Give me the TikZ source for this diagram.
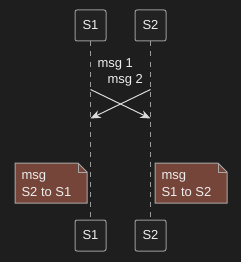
\documentclass[tikz,border=0pt]{standalone}
\usepackage{fontspec}
\setmainfont{Liberation Sans}
\usetikzlibrary{positioning, arrows.meta, calc}

\definecolor{canvas}{HTML}{1E1E1E}
\definecolor{boxfill}{HTML}{222222}
\definecolor{boxline}{HTML}{9A9A9A}
\definecolor{arrowline}{HTML}{DADADA}
\definecolor{msgtext}{HTML}{EEEEEE}
\definecolor{notefill}{HTML}{76453A}
\definecolor{noteline}{HTML}{A8A8A8}

\begin{document}
\begin{tikzpicture}[
    x=1pt, y=-1pt, line width=1pt,
    participant/.style={draw=boxline, fill=boxfill, rounded corners=2pt, minimum width=31pt, minimum height=31pt, inner sep=0pt, text=msgtext, font=\fontsize{13}{15}\selectfont},
    lifeline/.style={draw=boxline, dash pattern=on 5pt off 5pt},
    message/.style={draw=arrowline, -{Stealth[length=10pt, width=8pt, inset=3pt]}},
    msglabel/.style={text=msgtext, inner sep=0pt, anchor=base west, font=\fontsize{13}{15}\selectfont},
    notebody/.style={fill=notefill, draw=noteline},
    notetext/.style={text=msgtext, inner sep=0pt, align=left, anchor=base west, font=\fontsize{13}{16.5}\selectfont}
]

% Canvas
\fill[canvas] (0,0) rectangle (241,262);
\useasboundingbox (0,0) rectangle (241,262);

% Participants
\node (s1top) [participant] at (90.5,25.5) {S1};
\node (s2top) [participant, right=28pt of s1top] {S2};
\node (s1bot) [participant] at (90.5,235.5) {S1};
\node (s2bot) [participant, right=28pt of s1bot] {S2};

% Lifelines
\draw [lifeline] (s1top) -- (s1bot);
\draw [lifeline] (s2top) -- (s2bot);

% Messages
\coordinate (m1start) at ($(s1top.south)+(0,48)$);
\coordinate (m1end) at ($(s2top.south)+(0,77)$);
\coordinate (m2start) at ($(s2top.south)+(0,48)$);
\coordinate (m2end) at ($(s1top.south)+(0,77)$);
\draw [message] (m1start) -- (m1end);
\draw [message] (m2start) -- (m2end);
\node (msg1) [msglabel] at (97,67) {msg 1};
\node (msg2) [msglabel] at (107,83) {msg 2};

% Notes
\coordinate (note1nw) at (15,163);
\filldraw [notebody] (note1nw) -- ++(63,0) -- ++(9,9) -- ++(0,31) -- ++(-72,0) -- cycle;
\draw [noteline] ($(note1nw)+(63,0)$) -- ++(0,9) -- ++(9,0);
\node (note1) [notetext] at ($(note1nw)+(6,33)$) {msg\\S2 to S1};

\coordinate (note2nw) at (155,163);
\filldraw [notebody] (note2nw) -- ++(63,0) -- ++(9,9) -- ++(0,31) -- ++(-72,0) -- cycle;
\draw [noteline] ($(note2nw)+(63,0)$) -- ++(0,9) -- ++(9,0);
\node (note2) [notetext] at ($(note2nw)+(6,33)$) {msg\\S1 to S2};

\end{tikzpicture}
\end{document}
